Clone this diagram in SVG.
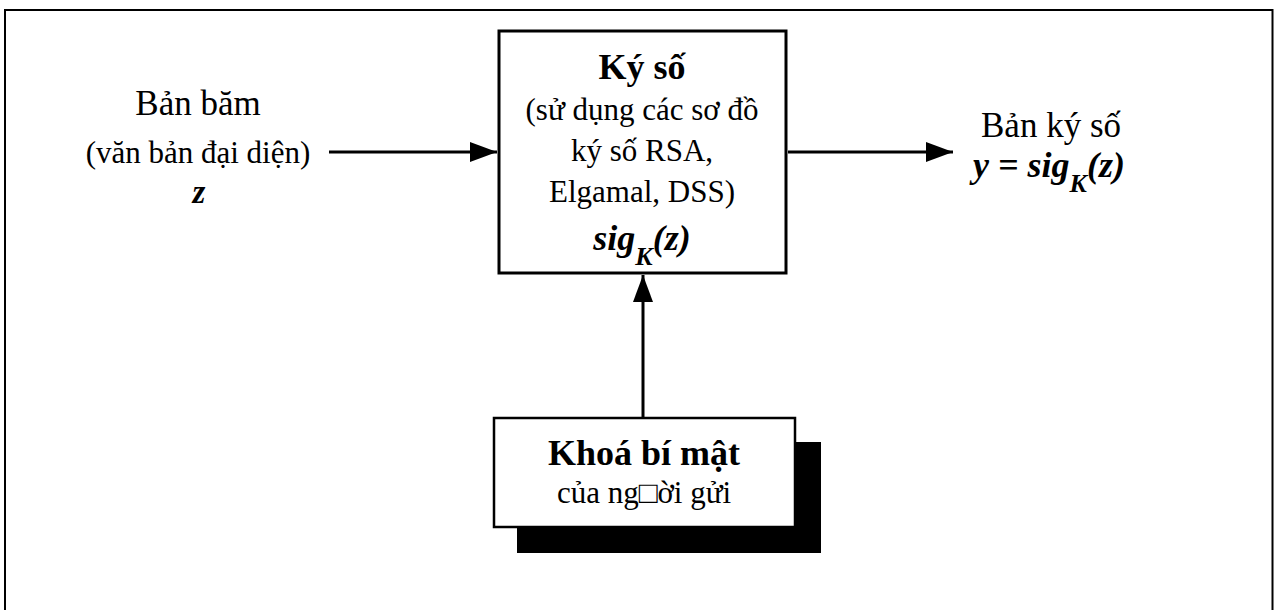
<svg xmlns="http://www.w3.org/2000/svg" width="1274" height="610" viewBox="0 0 1274 610">
  <style>
    .t { font-family: "Liberation Serif", "Times New Roman", serif; fill: #000; text-anchor: middle; }
    .big { font-size: 35px; }
    .reg { font-size: 31px; }
    .title { font-size: 36px; font-weight: bold; }
    .math { font-size: 36px; font-weight: bold; font-style: italic; }
    .var { font-size: 33px; font-weight: bold; font-style: italic; }
    .sub { font-size: 26px; }
    .box { fill: #fff; stroke: #000; }
    .wire { fill: none; stroke: #000; stroke-width: 3; }
  </style>
  <defs>
    <marker id="head" markerUnits="userSpaceOnUse" markerWidth="28" markerHeight="22" refX="27" refY="10" orient="auto">
      <polygon points="0,0 27,10 0,20" fill="#000"/>
    </marker>
  </defs>

  <rect x="0" y="0" width="1274" height="610" fill="#fff"/>
  <!-- page border -->
  <rect x="5" y="10" width="1267.5" height="640" fill="none" stroke="#000" stroke-width="2"/>

  <!-- connectors -->
  <g id="connectors">
    <path class="wire" d="M329 152 H497" marker-end="url(#head)"/>
    <path class="wire" d="M788 152 H953" marker-end="url(#head)"/>
    <path class="wire" d="M643 418 V275" marker-end="url(#head)"/>
  </g>

  <!-- input label -->
  <g id="input">
    <text class="t big" x="198" y="115">Bản băm</text>
    <text class="t reg" x="198" y="163">(văn bản đại diện)</text>
    <text class="t var" x="199" y="203">z</text>
  </g>

  <!-- signing block -->
  <g id="sign">
    <rect class="box" x="499" y="31" width="287" height="242" stroke-width="3"/>
    <text class="t title" x="642" y="79">Ký số</text>
    <text class="t reg" x="642" y="120">(sử dụng các sơ đồ</text>
    <text class="t reg" x="642" y="161">ký số RSA,</text>
    <text class="t reg" x="642" y="202">Elgamal, DSS)</text>
    <text class="t math" x="642" y="250">sig<tspan class="sub" dy="15">K</tspan><tspan dy="-15">(z)</tspan></text>
  </g>

  <!-- output label -->
  <g id="output">
    <text class="t big" x="1051" y="137">Bản ký số</text>
    <text class="t math" x="1049" y="177">y = sig<tspan class="sub" dy="15">K</tspan><tspan dy="-15">(z)</tspan></text>
  </g>

  <!-- private key block with drop shadow -->
  <g id="key">
    <rect x="517" y="442" width="304" height="111" fill="#000"/>
    <rect class="box" x="494" y="418" width="301" height="109" stroke-width="2.5"/>
    <text class="t title" x="644" y="465">Khoá bí mật</text>
    <text class="t reg" x="644" y="503">của ng□ời gửi</text>
  </g>
</svg>
